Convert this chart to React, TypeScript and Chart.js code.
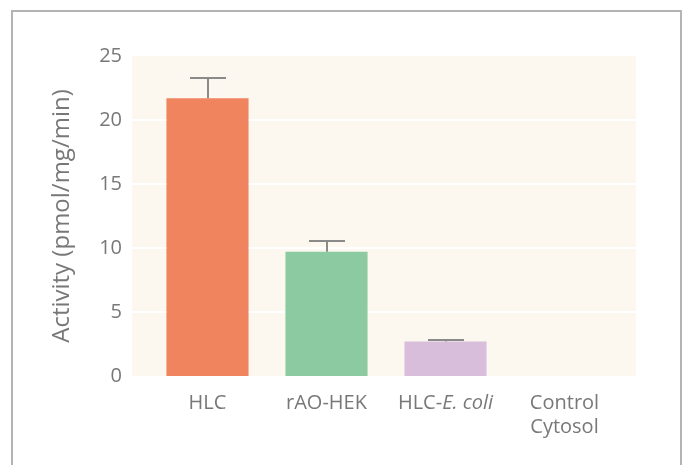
import React, { useEffect, useRef } from "react";
import { Chart, registerables } from "chart.js";

Chart.register(...registerables);

const categories: string[] = ["HLC", "rAO-HEK", "HLC-E. coli", "Control Cytosol"];
const activity: number[] = [21.7, 9.7, 2.7, 0];
const errorUp: number[] = [1.6, 0.85, 0.15, 0];
const barColors: string[] = ["#f0845e", "#8ccaa1", "#d8bedb", "#cccccc"];
const yTicks: number[] = [0, 5, 10, 15, 20, 25];

const FONT = "'Open Sans', 'Noto Sans', sans-serif";
const TEXT = "#787878";

const bgPlugin = {
  id: "plotBg",
  beforeDatasetsDraw(chart: any) {
    const { ctx, chartArea, scales } = chart;
    const y = scales.y;
    const left = chartArea.left - 16;
    const right = chartArea.right + 12;
    const top = y.getPixelForValue(yTicks[yTicks.length - 1]);
    const bottom = y.getPixelForValue(yTicks[0]);
    ctx.save();
    ctx.fillStyle = "#fcf7ef";
    ctx.fillRect(left, top, right - left, bottom - top);
    ctx.strokeStyle = "#ffffff";
    ctx.lineWidth = 2;
    for (let i = 1; i < yTicks.length - 1; i++) {
      const py = Math.round(y.getPixelForValue(yTicks[i]));
      ctx.beginPath();
      ctx.moveTo(left, py);
      ctx.lineTo(right, py);
      ctx.stroke();
    }
    ctx.restore();
  },
};

const errPlugin = {
  id: "errBars",
  afterDatasetsDraw(chart: any) {
    const { ctx, scales } = chart;
    const meta = chart.getDatasetMeta(0);
    ctx.save();
    ctx.strokeStyle = "#8a8a8a";
    ctx.lineWidth = 2;
    meta.data.forEach((el: any, i: number) => {
      if (!errorUp[i]) return;
      const x = Math.round(el.x);
      const yb = el.y;
      const yt = Math.round(scales.y.getPixelForValue(activity[i] + errorUp[i]));
      ctx.beginPath();
      ctx.moveTo(x, yb);
      ctx.lineTo(x, yt);
      ctx.moveTo(x - 18, yt);
      ctx.lineTo(x + 18, yt);
      ctx.stroke();
    });
    ctx.restore();
  },
};

const labelPlugin = {
  id: "xLabels",
  afterDraw(chart: any) {
    const { ctx, chartArea, scales } = chart;
    const normal = `20px ${FONT}`;
    const italic = `italic 20px ${FONT}`;
    ctx.save();
    ctx.fillStyle = TEXT;
    ctx.textBaseline = "alphabetic";
    ctx.textAlign = "left";
    categories.forEach((label, i) => {
      const cx = scales.x.getPixelForValue(i);
      const base = chartArea.bottom + 33;
      if (label.includes("E. coli")) {
        const a = label.replace("E. coli", "");
        const b = "E. coli";
        ctx.font = normal;
        const wa = ctx.measureText(a).width;
        ctx.font = italic;
        const wb = ctx.measureText(b).width;
        const sx = cx - (wa + wb) / 2;
        ctx.font = normal;
        ctx.fillText(a, sx, base);
        ctx.font = italic;
        ctx.fillText(b, sx + wa, base);
      } else {
        const lines = label.startsWith("Control") ? label.split(" ") : [label];
        ctx.font = normal;
        lines.forEach((ln, k) => {
          const w = ctx.measureText(ln).width;
          ctx.fillText(ln, cx - w / 2, base + k * 24);
        });
      }
    });
    ctx.restore();
  },
};

export default function App() {
  const ref = useRef<HTMLCanvasElement>(null);
  useEffect(() => {
    if (!ref.current) return;
    const chart = new Chart(ref.current, {
      type: "bar",
      data: {
        labels: categories,
        datasets: [
          {
            data: activity,
            backgroundColor: barColors,
            borderWidth: 0,
            barPercentage: 0.69,
            categoryPercentage: 1,
          },
        ],
      },
      options: {
        responsive: false,
        animation: false,
        devicePixelRatio: 1,
        layout: { padding: { left: 0, top: 56, right: 61, bottom: 89 } },
        plugins: { legend: { display: false }, tooltip: { enabled: false } },
        scales: {
          x: { display: false },
          y: {
            min: 0,
            max: 25,
            grid: { display: false, drawTicks: false },
            border: { display: false },
            ticks: {
              stepSize: 5,
              padding: 26,
              color: TEXT,
              font: { family: FONT, size: 20 },
            },
            title: {
              display: true,
              text: "Activity (pmol/mg/min)",
              color: TEXT,
              font: { family: FONT, size: 24 },
              padding: { top: 48, bottom: 0 },
            },
            afterFit(scale: any) {
              scale.width = 148;
            },
          },
        },
      },
      plugins: [bgPlugin, errPlugin, labelPlugin],
    });
    return () => chart.destroy();
  }, []);
  return (
    <div style={{ position: "fixed", left: 0, top: 0, width: 685, height: 465, background: "#fff", overflow: "hidden" }}>
      <div
        style={{
          position: "absolute",
          left: 11,
          top: 10,
          width: 671,
          height: 470,
          boxSizing: "border-box",
          borderTop: "2px solid #b4b4b4",
          borderLeft: "2px solid #b4b4b4",
          borderRight: "2px solid #b4b4b4",
        }}
      />
      <canvas ref={ref} width={685} height={465} style={{ position: "absolute", left: 0, top: 0 }} />
    </div>
  );
}
